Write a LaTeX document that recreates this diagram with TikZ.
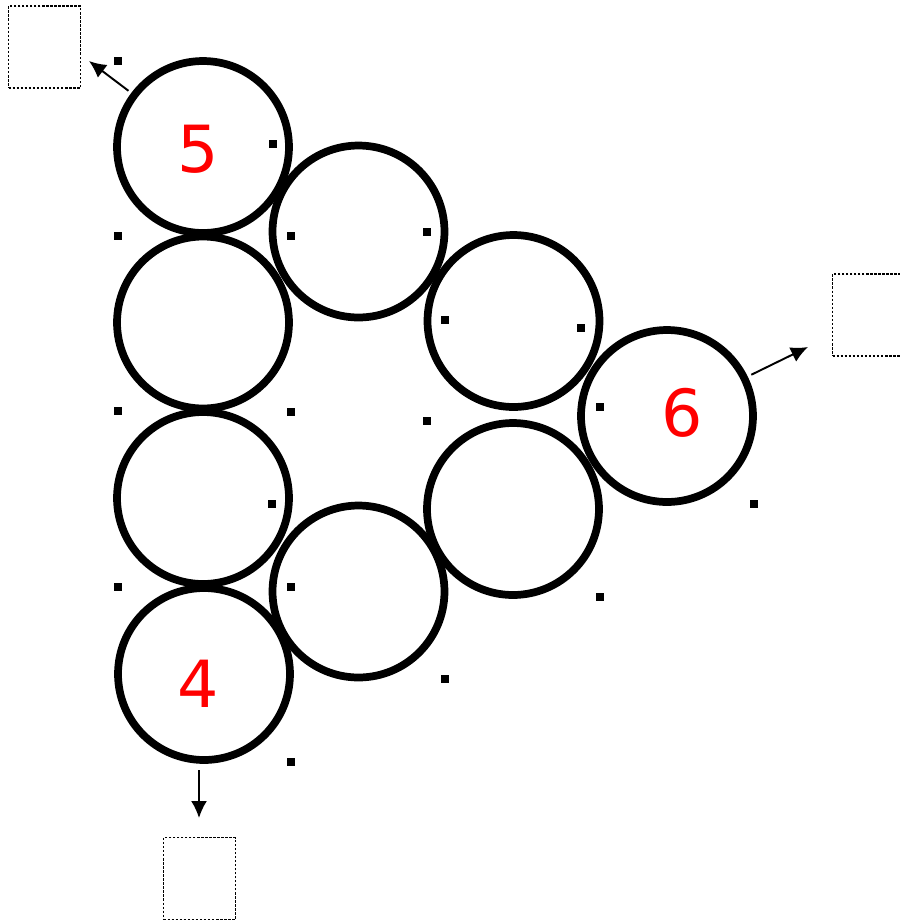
\documentclass[tikz,border=0pt]{standalone}
\usepackage{fontspec}
\newfontfamily\digitfont{DejaVu Sans}
\usetikzlibrary{arrows.meta}

\begin{document}
\begin{tikzpicture}[x=0.02cm,y=-0.02cm,
  ring/.style={circle,draw,line width=4.4pt,minimum size=3.44cm,inner sep=0pt},
  num/.style={text=red,inner sep=0pt,font=\digitfont\fontsize{37}{40}\selectfont},
  slot/.style={draw,line width=1.1pt,dash pattern=on 1.4pt off 0.9pt,minimum width=1.44cm,minimum height=1.64cm,inner sep=0pt},
  arr/.style={-{Latex[length=3.4mm,width=3.2mm]},line width=1.1pt}]
  \clip (0,0) rectangle (900,921);
  % linke Spalte
  \node[ring] (c5) at (203,147) {};
  \node[ring] (c7) at (203,322.5) {};
  \node[ring] (c8) at (203,498) {};
  \node[ring] (c4) at (204,674) {};
  % obere Diagonale
  \node[ring] (c1) at (358.5,231.5) {};
  \node[ring] (c2) at (513.5,321) {};
  \node[ring] (c6) at (667,416) {};
  % untere Diagonale
  \node[ring] (c3) at (358.5,591.5) {};
  \node[ring] (c9) at (513,509) {};
  % Zahlen
  \node[num] (n5) at (198.5,149.5) {5};
  \node[num] (n6) at (682,412.5) {6};
  \node[num] (n4) at (198,683.5) {4};
  % Punkte
  \foreach \x/\y in {118/61,273/144,118/236,291/236,427/232,445/320,581/328,
    118/411,291/412,427/421,600/407,272/504,118/587,291/587,600/597,445/679,
    291/762,754/504}
    \fill (\x-4,\y-4) rectangle ++(8,8);
  % Kaestchen
  \node[slot] (b5) at (44.5,47) {};
  \node[slot] (b6) at (868.5,315) {};
  \node[slot] (b4) at (199.5,878.5) {};
  \coordinate (t5) at (89,61);
  \coordinate (t6) at (808,347);
  \coordinate (t4) at (199,818);
  \draw[arr,shorten <=0.07cm] (c5) -- (t5);
  \draw[arr,shorten <=0.08cm] (c6) -- (t6);
  \draw[arr,shorten <=0.13cm] (c4.south -| t4) -- (t4);
\end{tikzpicture}
\end{document}
